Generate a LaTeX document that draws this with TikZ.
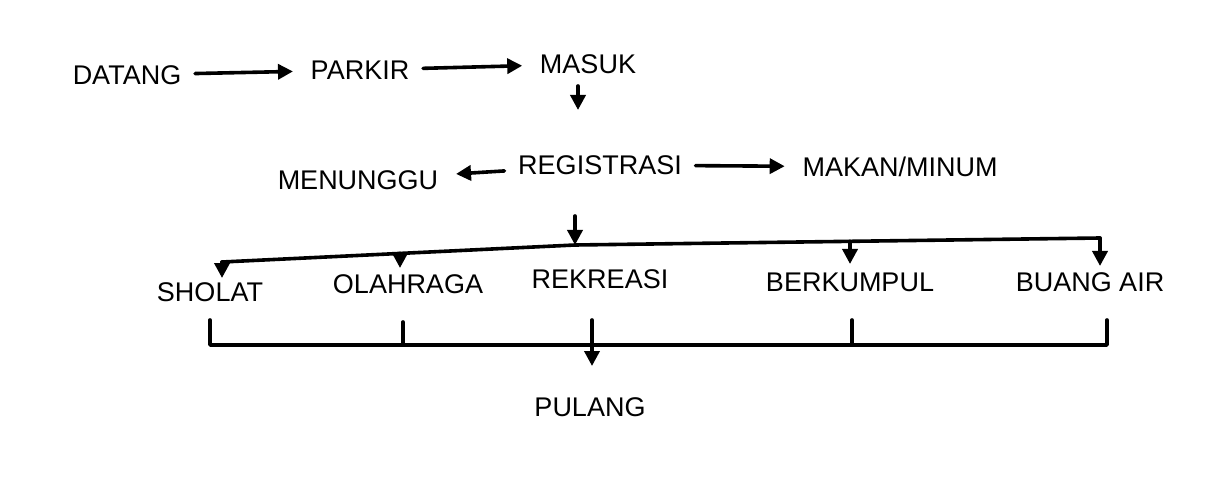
\documentclass[tikz,border=0pt]{standalone}
\usepackage{fontspec}
\setmainfont{Liberation Sans}
\usetikzlibrary{arrows.meta}
\begin{document}
\begin{tikzpicture}[x=1pt,y=-1pt,
  line width=3.6pt, line cap=round, line join=round,
  >={Triangle[length=15pt,width=15pt]},
  lbl/.style={font=\fontsize{27}{29}\selectfont, inner sep=2pt},
  flow/.style={->, shorten <=10pt, shorten >=14pt}]
\useasboundingbox (0,0) rectangle (1209,486);
\fill[white] (0,0) rectangle (1209,486);

% entrance chain
\node[lbl] (datang) at (127,75) {DATANG};
\node[lbl] (parkir) at (360,70) {PARKIR};
\node[lbl] (masuk) at (588,64) {MASUK};
\node[lbl] (registrasi) at (600,165) {REGISTRASI};
\node[lbl] (menunggu) at (358,180) {MENUNGGU};
\node[lbl] (makan) at (900,167) {MAKAN/MINUM};

\draw[flow] (datang) -- (parkir);
\draw[flow] (parkir) -- (masuk);
\coordinate (mTop) at (578,86);
\coordinate (mEnd) at (578,110);
\draw[->] (mTop) -- (mEnd);
\draw[flow] (registrasi) -- (menunggu);
\draw[flow] (registrasi) -- (makan);

% activities
\node[lbl] (sholat) at (210,292) {SHOLAT};
\node[lbl] (olahraga) at (408,284) {OLAHRAGA};
\node[lbl] (rekreasi) at (600,279) {REKREASI};
\node[lbl] (berkumpul) at (850,282) {BERKUMPUL};
\node[lbl] (buangair) at (1090,282) {BUANG AIR};
\node[lbl] (pulang) at (590,407) {PULANG};

% distribution bus
\coordinate (rTop) at (575,216);
\coordinate (hub) at (575,245);
\coordinate (busL) at (222,262);
\coordinate (busR) at (1100,238);
\coordinate (tapO) at (400,253.4);
\coordinate (tapB) at (850,241.3);
\coordinate (endS) at (222,278);
\coordinate (endO) at (400,268);
\coordinate (endB) at (850,264);
\coordinate (endA) at (1100,266);
\draw[->] (rTop) -- (hub);
\draw (hub) -- (busL);
\draw (hub) -- (busR);
\draw[->] (busL) -- (endS);
\draw[->] (tapO) -- (endO);
\draw[->] (tapB) -- (endB);
\draw[->] (busR) -- (endA);

% collecting bus
\coordinate (sTop) at (210,320);
\coordinate (aTop) at (1107,320);
\coordinate (botR) at (1107,345);
\coordinate (oTop) at (403,322);
\coordinate (oBot) at (403,345);
\coordinate (bTop) at (852,320);
\coordinate (bBot) at (852,345);
\coordinate (kTop) at (592,320);
\coordinate (kEnd) at (592,366);
\draw (sTop) |- (botR) -- (aTop);
\draw (oTop) -- (oBot);
\draw (bTop) -- (bBot);
\draw[->] (kTop) -- (kEnd);
\end{tikzpicture}
\end{document}
